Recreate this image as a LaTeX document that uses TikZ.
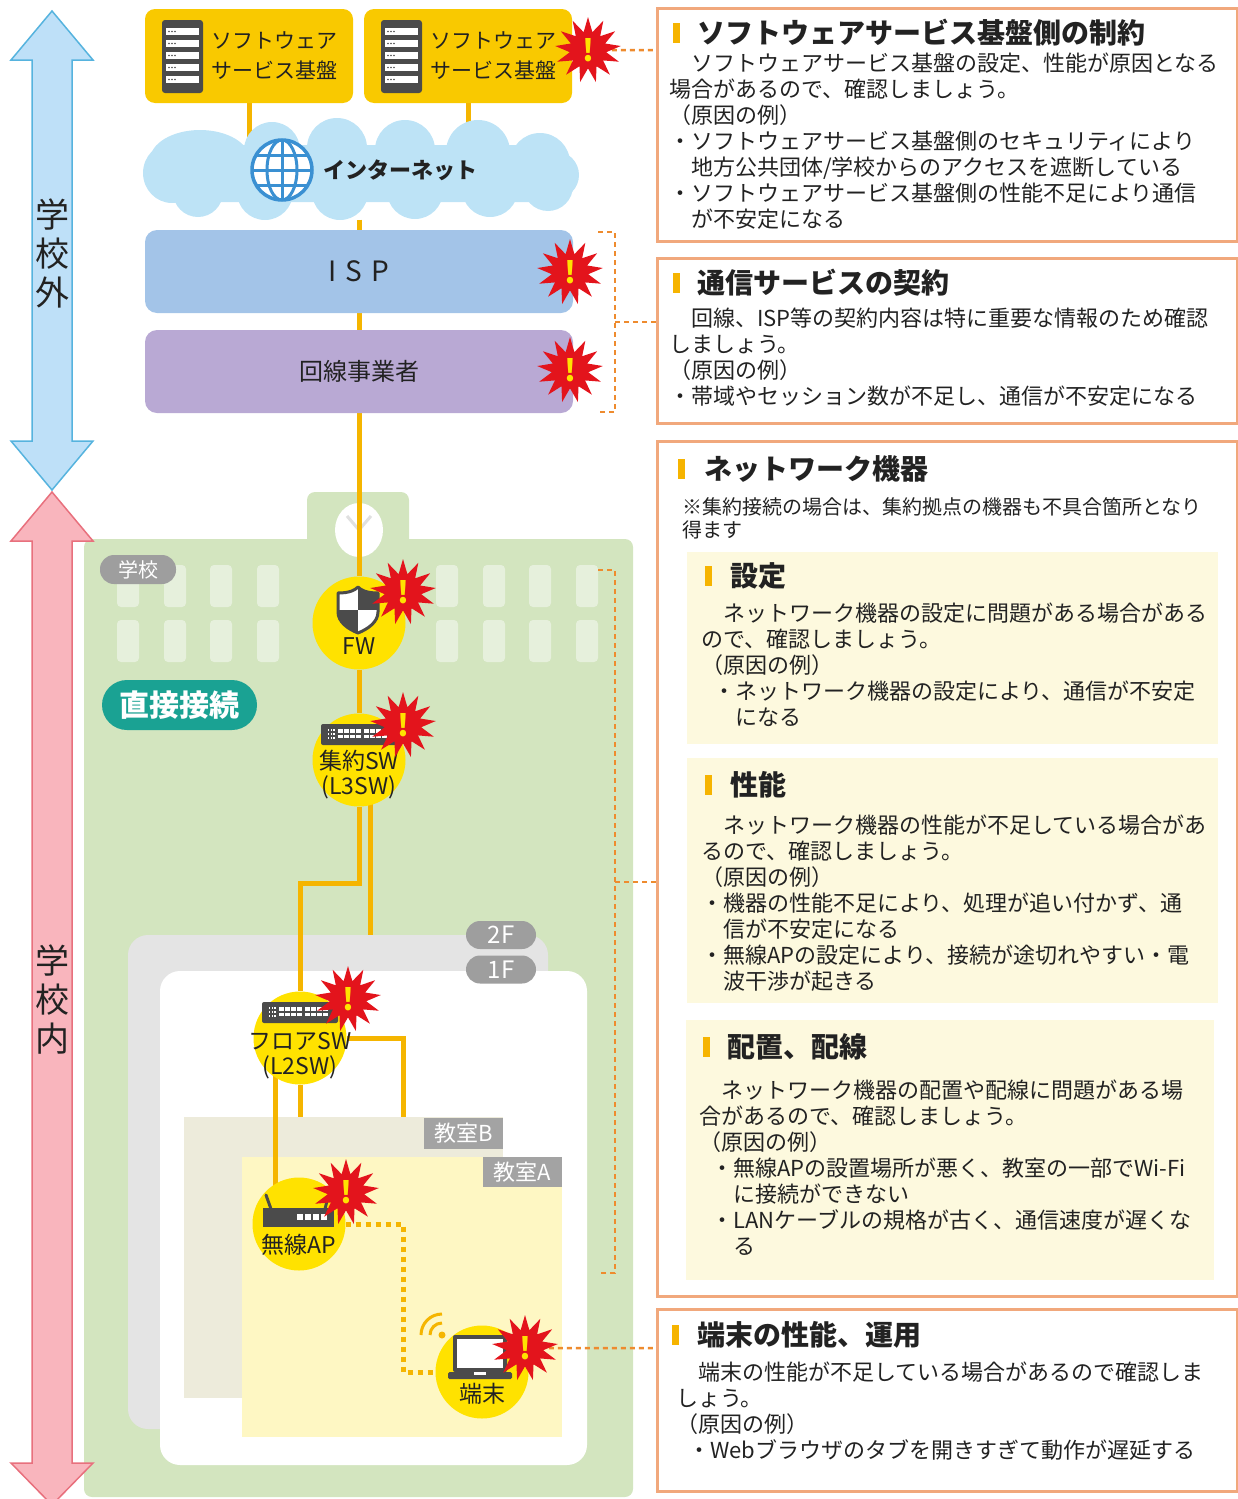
\documentclass[tikz,border=0pt]{standalone}
\usepackage{fontspec}
\setmainfont{Noto Sans CJK JP}
\usetikzlibrary{shapes.geometric,positioning,calc}

\pgfdeclarelayer{back}
\pgfdeclarelayer{wires}
\pgfsetlayers{back,wires,main}

\definecolor{svyellow}{HTML}{F9C900}
\definecolor{wirec}{HTML}{F5B500}
\definecolor{devyellow}{HTML}{FFE200}
\definecolor{cloudblue}{HTML}{BDE3F6}
\definecolor{ispblue}{HTML}{A3C4E8}
\definecolor{linepurple}{HTML}{B9A9D4}
\definecolor{outfill}{HTML}{BEE0F8}
\definecolor{outedge}{HTML}{56B3DE}
\definecolor{infill}{HTML}{F9B5BD}
\definecolor{inedge}{HTML}{E8707D}
\definecolor{schoolgreen}{HTML}{D3E5BF}
\definecolor{winlight}{HTML}{E6F0DC}
\definecolor{pillgrey}{HTML}{9E9E9E}
\definecolor{directteal}{HTML}{1AA293}
\definecolor{iconbg}{HTML}{4B4B4B}
\definecolor{burstred}{HTML}{E3141C}
\definecolor{leadc}{HTML}{EE8B2E}
\definecolor{boxline}{HTML}{F1A87C}
\definecolor{barorange}{HTML}{F6B400}
\definecolor{subfill}{HTML}{FDF9DE}
\definecolor{floorgrey}{HTML}{E4E4E4}
\definecolor{roomBfill}{HTML}{EDEBDB}
\definecolor{roomAfill}{HTML}{FEF7C3}
\definecolor{roomtag}{HTML}{A3A3A3}
\definecolor{globeblue}{HTML}{3A90D2}
\definecolor{ink}{HTML}{222222}

\begin{document}
\begin{tikzpicture}[x=1pt, y=-1pt,
	cable/.style={draw=wirec, line width=5pt},
	wlan/.style={draw=wirec, line width=5pt, dash pattern=on 5pt off 5pt},
	leader/.style={draw=leadc, line width=2.5pt, dash pattern=on 5pt off 4pt},
	server/.style={fill=svyellow, rounded corners=10pt, minimum width=208pt, minimum height=94pt, inner sep=0pt},
	band/.style={rounded corners=12pt, minimum width=428pt, minimum height=83pt, inner sep=0pt, text=ink},
	dev/.style={circle, fill=devyellow, minimum size=93pt, inner sep=0pt},
	devtext/.style={align=center, inner sep=0pt, text=ink, font=\fontsize{23}{25}\selectfont},
	burst/.style={star, star points=13, star point ratio=1.8, fill=burstred, minimum size=66pt, inner sep=0pt, text=devyellow, font=\fontsize{30}{30}\selectfont\bfseries},
	greytag/.style={fill=pillgrey, text=white, inner sep=0pt},
	consbox/.style={draw=boxline, line width=2.5pt, anchor=north west, inner sep=0pt},
	subbox/.style={fill=subfill, anchor=north west, inner sep=0pt},
	ttl/.style={anchor=west, inner sep=0pt, text=ink, font=\fontsize{28}{28}\selectfont\bfseries},
	body/.style={anchor=north west, align=left, inner sep=0pt, text=ink, font=\fontsize{22}{26}\selectfont}]
	\useasboundingbox (0,0) rectangle (1238,1499);

	% outside / inside arrows
	\filldraw[fill=outfill, draw=outedge, line width=1.5pt] (52,11) -- (93,60) -- (72,60) -- (72,441) -- (93,441) -- (52,490) -- (11,441) -- (32,441) -- (32,60) -- (11,60) -- cycle;
	\filldraw[fill=infill, draw=inedge, line width=1.5pt] (52,492) -- (93,541) -- (72,541) -- (72,1463) -- (93,1463) -- (52,1505) -- (11,1463) -- (32,1463) -- (32,541) -- (11,541) -- cycle;
	\node[align=center, text=ink, font=\fontsize{34}{39}\selectfont] (outside) at (52,253) {学\\校\\外};
	\node[align=center, text=ink, font=\fontsize{34}{39}\selectfont] (inside) at (52,1000) {学\\校\\内};

	% school building, floors and classrooms
	\begin{pgfonlayer}{back}
		\fill[schoolgreen, rounded corners=8pt] (84,539) rectangle (633,1497);
		\fill[schoolgreen, rounded corners=8pt] (307,492) rectangle (409,560);
		\fill[white] (359,530) ellipse [x radius=24, y radius=27];
		\draw[black!12, line width=3pt] (347,516) -- (359,530) -- (371,516);
		\foreach \x in {117,164,210,257,436,483,529,576}
			\foreach \y in {565,620}
				\fill[winlight, rounded corners=4pt] (\x,\y) rectangle ++(22,42);
		\fill[floorgrey, rounded corners=20pt] (128,935) rectangle (548,1429);
		\fill[white, rounded corners=20pt] (160,971) rectangle (587,1465);
		\fill[roomBfill] (184,1117) rectangle (503,1398);
		\fill[roomAfill] (242,1157) rectangle (562,1437);
	\end{pgfonlayer}

	% servers
	\node[server] (sv1) at (249,56) {};
	\node[server] (sv2) at (468,56) {};
	\foreach \s in {sv1,sv2} {
		\begin{scope}[shift={(\s)}]
			\fill[iconbg, rounded corners=3pt] (-87,-36) rectangle (-46,37);
			\foreach \y in {-28,-16,-4,8,20} {
				\fill[white] (-83,\y) rectangle (-50,\y+7);
				\foreach \d in {-80,-77,-74}
					\fill[iconbg] (\d,\y+3.5) circle (0.9);
			}
		\end{scope}
		\node[anchor=west, align=left, inner sep=0pt, text=ink, font=\fontsize{21}{30}\selectfont] (\s-name) at ([xshift=-38pt]\s.center) {ソフトウェア\\サービス基盤};
	}

	% internet cloud
	\node[minimum width=436pt, minimum height=103pt, inner sep=0pt] (net) at (359,168) {};
	\begin{scope}[fill=cloudblue]
		\fill[rounded corners=20pt] (175,145) rectangle (555,202);
		\fill (200,160) ellipse [x radius=50, y radius=30];
		\fill (272,150) circle (28);
		\fill (337,148) circle (30);
		\fill (405,150) circle (30);
		\fill (478,152) circle (32);
		\fill (540,163) circle (30);
		\fill (172,173) ellipse [x radius=29, y radius=30];
		\fill (555,175) circle (24);
		\fill (198,192) circle (25);
		\fill (265,192) circle (28);
		\fill (340,192) circle (28);
		\fill (415,191) circle (28);
		\fill (490,189) circle (28);
		\fill (548,186) circle (25);
	\end{scope}
	\begin{scope}[shift={(282,170)}]
		\fill[white] (0,0) circle (30);
		\begin{scope}
			\clip (0,0) circle (30);
			\draw[globeblue, line width=3pt] (0,-30) -- (0,30) (-30,0) -- (30,0) (-30,-15) -- (30,-15) (-30,15) -- (30,15);
			\draw[globeblue, line width=3pt] (0,0) ellipse [x radius=15, y radius=30];
		\end{scope}
		\draw[globeblue, line width=3.5pt] (0,0) circle (30);
	\end{scope}
	\node[anchor=west, inner sep=0pt, text=ink, font=\fontsize{22}{22}\selectfont\bfseries] (nettxt) at (323,170) {インターネット};

	\node[band, fill=ispblue, font=\fontsize{28}{28}\selectfont] (isp) at (359,271.5) {I\hspace{9pt}S\hspace{9pt}P};
	\node[band, fill=linepurple, font=\fontsize{24}{24}\selectfont] (carrier) at (359,371.5) {回線事業者};

	% tags on the building
	\node[greytag, rounded corners=14pt, minimum width=76pt, minimum height=29pt, font=\fontsize{20}{20}\selectfont] (schooltag) at (138,569.5) {学校};
	\node[fill=directteal, text=white, inner sep=0pt, rounded corners=25pt, minimum width=155pt, minimum height=50pt, font=\fontsize{30}{30}\selectfont\bfseries] (direct) at (179.5,705) {直接接続};
	\node[greytag, rounded corners=14pt, minimum width=70pt, minimum height=28pt, font=\fontsize{24}{24}\selectfont] (tag2f) at (501,935) {2F};
	\node[greytag, rounded corners=14pt, minimum width=70pt, minimum height=28pt, font=\fontsize{24}{24}\selectfont] (tag1f) at (501,969.5) {1F};
	\node[greytag, fill=roomtag, minimum width=79pt, minimum height=31pt, font=\fontsize{22}{22}\selectfont] (tagB) at (463.5,1133.5) {教室B};
	\node[greytag, fill=roomtag, minimum width=79pt, minimum height=30pt, font=\fontsize{22}{22}\selectfont] (tagA) at (522.5,1172) {教室A};

	% devices
	\node[dev] (fw) at (359,623) {};
	\node[dev] (l3) at (359,760) {};
	\node[dev] (l2) at (300,1038) {};
	\node[dev] (ap) at (299,1224) {};
	\node[dev] (pc) at (482,1372) {};
	\node[devtext] (fwtxt) at ([yshift=-23pt]fw.center) {FW};
	\node[devtext] (l3txt) at ([yshift=-15pt]l3.center) {集約SW\\(L3SW)};
	\node[devtext] (l2txt) at ([yshift=-18pt]l2.center) {フロアSW\\(L2SW)};
	\node[devtext] (aptxt) at ([yshift=-21pt]ap.center) {無線AP};
	\node[devtext] (pctxt) at ([yshift=-22pt]pc.center) {端末};

	% shield
	\begin{scope}[shift={(fw)}, shift={(-1,-13)}]
		\begin{scope}
			\clip (-20,-17) .. controls (-8,-17) and (-3,-20) .. (0,-23) .. controls (3,-20) and (8,-17) .. (20,-17) -- (20,2) .. controls (20,12) and (10,19) .. (0,23) .. controls (-10,19) and (-20,12) .. (-20,2) -- cycle;
			\fill[white] (-22,-25) rectangle (22,25);
			\fill[iconbg] (0,-25) rectangle (22,0);
			\fill[iconbg] (-22,0) rectangle (0,25);
		\end{scope}
		\draw[iconbg, line width=3pt, line join=round] (-20,-17) .. controls (-8,-17) and (-3,-20) .. (0,-23) .. controls (3,-20) and (8,-17) .. (20,-17) -- (20,2) .. controls (20,12) and (10,19) .. (0,23) .. controls (-10,19) and (-20,12) .. (-20,2) -- cycle;
	\end{scope}

	% switches
	\foreach \c in {l3,l2} {
		\begin{scope}[shift={(\c)}]
			\fill[iconbg, rounded corners=2pt] (-38,-36) rectangle (38,-15);
			\foreach \i in {0,1,2}
				\foreach \j in {0,1,2}
					\fill[white] (-31+2.6*\i,-31+4*\j) rectangle ++(1.4,1.8);
			\foreach \px in {-21,-15,-9,-3,5,11,17,23} {
				\fill[white] (\px,-31) rectangle ++(4.5,4);
				\fill[white] (\px,-25) rectangle ++(4.5,3);
			}
		\end{scope}
	}

	% access point
	\begin{scope}[shift={(ap)}]
		\draw[iconbg, line width=3pt, line cap=round] (-28,-15) -- (-33,-29);
		\draw[iconbg, line width=3pt, line cap=round] (26,-15) -- (29,-27);
		\fill[iconbg] (-36,-16) rectangle (35,3);
		\foreach \px in {-2,6,14,22}
			\fill[white] (\px,-10) rectangle ++(6,6);
	\end{scope}

	% laptop and signal
	\begin{scope}[shift={(pc)}]
		\fill[iconbg, rounded corners=2pt] (-29,-37) rectangle (25,0);
		\fill[white] (-25,-33) rectangle (21,-4);
		\fill[iconbg, rounded corners=1.5pt] (-34,0) rectangle (30,7);
		\fill[white] (-8,0) rectangle (4,2.5);
	\end{scope}
	\coordinate (wifi) at ($(pc)+(-40,-37)$);
	\fill[wirec] (wifi) circle (3.5);
	\foreach \r in {12,21}
		\draw[wirec, line width=3pt] (wifi) ++(-\r,0) arc (180:270:\r);

	% trouble marks
	\foreach \n/\x/\y in {b1/588/50, b2/570/272, b3/570/370, b4/403/592, b5/403/725, b6/348/999, b7/346/1192, b8/525/1348}
		\node[burst] (\n) at (\x,\y) {!};

	% right-hand notes
	\node[consbox, minimum width=580pt, minimum height=233pt] (cons1) at (656,7) {};
	\node[consbox, minimum width=580pt, minimum height=165pt] (cons2) at (656,257) {};
	\node[consbox, minimum width=580pt, minimum height=855pt] (cons3) at (656,440) {};
	\node[consbox, minimum width=580pt, minimum height=182pt] (cons4) at (656,1308) {};
	\node[subbox, minimum width=531pt, minimum height=192pt] (setting) at (687,552) {};
	\node[subbox, minimum width=531pt, minimum height=245pt] (perf) at (687,758) {};
	\node[subbox, minimum width=528pt, minimum height=260pt] (layout) at (686,1020) {};

	\foreach \x/\y in {673/33, 673/283, 678/469, 705/576, 705/785, 703/1047, 672/1335}
		\fill[barorange] (\x,\y-10) rectangle ++(7,20);

	\node[ttl] (t1) at (697,33) {ソフトウェアサービス基盤側の制約};
	\node[ttl] (t2) at (697,283) {通信サービスの契約};
	\node[ttl] (t3) at (704,469) {ネットワーク機器};
	\node[ttl] (t4) at (730,576) {設定};
	\node[ttl] (t5) at (730,785) {性能};
	\node[ttl] (t6) at (727,1047) {配置、配線};
	\node[ttl] (t7) at (697,1335) {端末の性能、運用};

	\node[body] (x1) at (669,53) {　ソフトウェアサービス基盤の設定、性能が原因となる\\場合があるので、確認しましょう。\\（原因の例）\\・ソフトウェアサービス基盤側のセキュリティにより\\　地方公共団体/学校からのアクセスを遮断している\\・ソフトウェアサービス基盤側の性能不足により通信\\　が不安定になる};
	\node[body] (x2) at (669,308) {　回線、ISP等の契約内容は特に重要な情報のため確認\\しましょう。\\（原因の例）\\・帯域やセッション数が不足し、通信が不安定になる};
	\node[body, font=\fontsize{20}{23}\selectfont] (x3) at (682,497) {※集約接続の場合は、集約拠点の機器も不具合箇所となり\\得ます};
	\node[body] (x4) at (701,603) {　ネットワーク機器の設定に問題がある場合がある\\ので、確認しましょう。\\（原因の例）\\\hspace*{12pt}・ネットワーク機器の設定により、通信が不安定\\\hspace*{12pt}　になる};
	\node[body] (x5) at (701,815) {　ネットワーク機器の性能が不足している場合があ\\るので、確認しましょう。\\（原因の例）\\・機器の性能不足により、処理が追い付かず、通\\　信が不安定になる\\・無線APの設定により、接続が途切れやすい・電\\　波干渉が起きる};
	\node[body] (x6) at (699,1080) {　ネットワーク機器の配置や配線に問題がある場\\合があるので、確認しましょう。\\（原因の例）\\\hspace*{12pt}・無線APの設置場所が悪く、教室の一部でWi-Fi\\\hspace*{12pt}　に接続ができない\\\hspace*{12pt}・LANケーブルの規格が古く、通信速度が遅くな\\\hspace*{12pt}　る};
	\node[body] (x7) at (676,1362) {　端末の性能が不足している場合があるので確認しま\\しょう。\\（原因の例）\\\hspace*{12pt}・Webブラウザのタブを開きすぎて動作が遅延する};

	% cabling and leaders
	\coordinate (flr2) at (370,935);
	\coordinate (intoB) at (403,1117);
	\coordinate (drop) at ($(l2)+(-25,0)$);
	\coordinate (turn) at (403,1372);
	\coordinate (ispT) at (598,232);
	\coordinate (lineB) at (598,412);
	\coordinate (tick1) at (615,322);
	\coordinate (netT) at (598,570);
	\coordinate (netB) at (598,1273);
	\coordinate (tick2) at (615,882);
	\begin{pgfonlayer}{wires}
		\draw[cable] (sv1) -- (sv1 |- net);
		\draw[cable] (sv2) -- (sv2 |- net);
		\draw[cable] (net) -- (isp);
		\draw[cable] (isp) -- (carrier);
		\draw[cable] (carrier) -- (fw);
		\draw[cable] (fw) -- (l3);
		\draw[cable] (l3) -- ($(l3)+(0,123)$) -| (l2);
		\draw[cable] (l3 -| flr2) -- (flr2);
		\draw[cable] (l2) -| (intoB);
		\draw[cable] (l2) -- (l2 |- intoB);
		\draw[cable] (drop) -- (drop |- ap);
		\draw[wlan] (ap) -| (turn) -- (pc);

		\draw[leader] (b1) -- (b1 -| cons1.west);
		\draw[leader] (ispT) -- ++(17,0) |- (lineB);
		\draw[leader] (tick1) -- (tick1 -| cons2.west);
		\draw[leader] (netT) -- ++(17,0) |- (netB);
		\draw[leader] (tick2) -- (tick2 -| cons3.west);
		\draw[leader] (b8) -- (b8 -| cons4.west);
	\end{pgfonlayer}
\end{tikzpicture}
\end{document}
